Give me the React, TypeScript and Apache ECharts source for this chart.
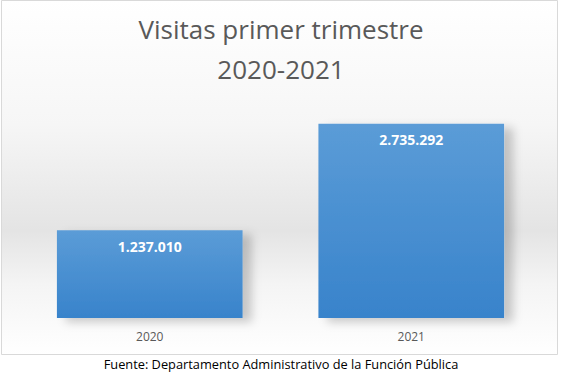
import React, { useEffect, useRef } from "react";
import * as echarts from "echarts";

const categories = ["2020", "2021"];
const visits = [1237010, 2735292];
const titleLines = ["Visitas primer trimestre", "2020-2021"];
const sourceNote = "Fuente: Departamento Administrativo de la Función Pública";

const fmt = (v: number) => v.toString().replace(/\B(?=(\d{3})+(?!\d))/g, ".");

export default function App() {
  const ref = useRef<HTMLDivElement>(null);
  useEffect(() => {
    document.body.style.margin = "0";
    const chart = echarts.init(ref.current!, null, { renderer: "svg" });
    chart.setOption({
      animation: false,
      backgroundColor: "#ffffff",
      graphic: [
        {
          type: "rect",
          z: -10,
          silent: true,
          shape: { x: 1.5, y: 0.5, width: 556, height: 354 },
          style: {
            fill: new echarts.graphic.LinearGradient(0, 0, 0, 1, [
              { offset: 0, color: "#ffffff" },
              { offset: 0.35, color: "#f6f6f6" },
              { offset: 0.65, color: "#e4e4e4" },
              { offset: 0.8, color: "#f4f4f4" },
              { offset: 1, color: "#ffffff" },
            ]),
            stroke: "#d9d9d9",
            lineWidth: 1,
          },
        },
        {
          type: "text",
          x: 281,
          y: 9,
          silent: true,
          style: {
            text: titleLines.join("\n"),
            textAlign: "center",
            fontFamily: "Open Sans",
            fontSize: 26,
            lineHeight: 40,
            fill: "#595959",
          },
        },
        {
          type: "text",
          left: "center",
          top: 357,
          style: {
            text: sourceNote,
            fontFamily: "Open Sans",
            fontSize: 12.8,
            fill: "#000000",
          },
        },
      ],
      grid: { left: 19, right: 20, top: 105, bottom: 61 },
      xAxis: {
        type: "category",
        data: categories,
        axisLine: { show: false },
        axisTick: { show: false },
        axisLabel: {
          margin: 12,
          fontFamily: "Open Sans",
          fontSize: 12,
          color: "#595959",
        },
      },
      yAxis: {
        type: "value",
        min: 0,
        max: 3000000,
        show: false,
        splitLine: { show: false },
      },
      series: [
        {
          type: "bar",
          data: visits,
          barWidth: "71%",
          itemStyle: {
            color: new echarts.graphic.LinearGradient(0, 0, 0, 1, [
              { offset: 0, color: "#5b9cd7" },
              { offset: 1, color: "#3883cb" },
            ]),
            shadowColor: "rgba(0,0,0,0.2)",
            shadowBlur: 10,
            shadowOffsetX: 9,
            shadowOffsetY: 4,
          },
          label: {
            show: true,
            position: "insideTop",
            distance: 9,
            formatter: (p: any) => fmt(p.value),
            fontFamily: "Open Sans",
            fontSize: 14,
            fontWeight: "bold",
            color: "#ffffff",
          },
        },
      ],
    });
    return () => chart.dispose();
  }, []);
  return <div ref={ref} style={{ width: 562, height: 379 }} />;
}
